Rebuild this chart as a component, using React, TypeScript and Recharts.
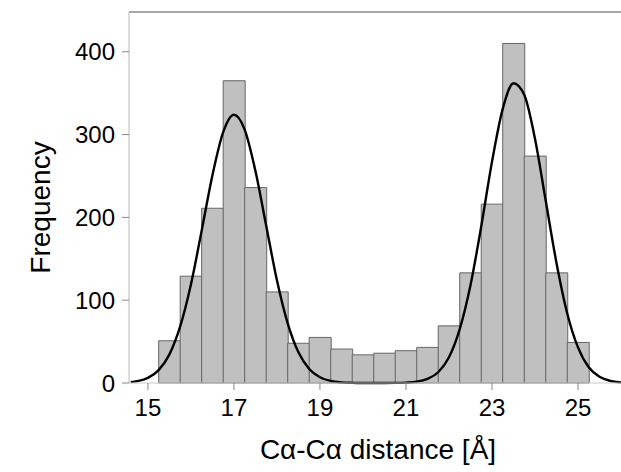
import React from 'react';
import { ComposedChart, Bar, Line, XAxis, YAxis, Label } from 'recharts';

// histogram bins (0.5 Å wide, centred on x)
const binCenters = [15.5, 16, 16.5, 17, 17.5, 18, 18.5, 19, 19.5, 20, 20.5, 21, 21.5, 22, 22.5, 23, 23.5, 24, 24.5, 25];
const binCounts = [51, 129, 211, 365, 236, 110, 48, 55, 41, 34, 36, 39, 43, 69, 133, 216, 410, 274, 133, 49];

// fitted curve
const curveX = [
  14.6, 14.75, 15, 15.25, 15.5, 15.75, 16, 16.25, 16.5, 16.75, 17, 17.25, 17.5, 17.75, 18, 18.25, 18.5, 18.75, 19,
  19.25, 19.5, 19.75, 20, 20.25, 20.5, 20.75, 21, 21.25, 21.5, 21.75, 22, 22.25, 22.5, 22.75, 23, 23.25, 23.5,
  23.75, 24, 24.25, 24.5, 24.75, 25, 25.25, 25.5, 25.75, 26,
];
const curveY = [
  1, 2.2, 6.2, 15.5, 34.6, 68.3, 119, 184, 251, 303, 324, 306, 256, 190, 124, 72, 37, 17, 7,
  2.5, 0.8, 0.2, 0, 0, 0, 0.1, 0.5, 1.6, 5, 13, 31, 65, 118, 189, 267, 331, 362,
  348, 295, 220, 145, 84, 43, 19, 7.5, 2.6, 0.8,
];

const xTicks = [15, 17, 19, 21, 23, 25];
const yTicks = [0, 100, 200, 300, 400];
const xDomain: [number, number] = [14.56, 26];
const yDomain: [number, number] = [0, 448];

const bins = binCenters.map((x, i) => ({ x, count: binCounts[i] }));
const curve = curveX.map((x, i) => ({ x, fit: curveY[i] }));

const font = '"Liberation Sans", Arial, Helvetica, sans-serif';

const YTitle = (props: any) => {
  const vb = props.viewBox || {};
  const cx = (vb.x || 0) + 40;
  const cy = (vb.y || 0) + (vb.height || 0) / 2 + 10;
  return (
    <text
      x={cx}
      y={cy}
      transform={`rotate(-90, ${cx}, ${cy})`}
      textAnchor="middle"
      dominantBaseline="central"
      fill="#000"
      fontSize={28}
    >
      Frequency
    </text>
  );
};

export default function App() {
  return (
    <div style={{ position: 'absolute', left: 0, top: 0, fontFamily: font }}>
      <ComposedChart
        width={621}
        height={472}
        data={bins}
        margin={{ top: 11, right: 0, bottom: 0, left: 0 }}
        barCategoryGap={0}
        barGap={0}
      >
        <XAxis
          xAxisId="bars"
          orientation="top"
          type="number"
          dataKey="x"
          domain={xDomain}
          allowDataOverflow
          height={1}
          tick={false}
          tickLine={false}
          axisLine={{ stroke: '#a6a6a6', strokeWidth: 2 }}
        />
        <XAxis
          xAxisId="x"
          type="number"
          dataKey="x"
          domain={xDomain}
          allowDataOverflow
          ticks={xTicks}
          height={89}
          tickSize={7}
          tickMargin={9}
          tick={{ fill: '#000', fontSize: 24 }}
          tickLine={{ stroke: '#888' }}
          axisLine={{ stroke: '#c8c8c8' }}
        >
          <Label value="Cα-Cα distance [Å]" position="insideBottom" offset={13} dx={3} fill="#000" fontSize={28} />
        </XAxis>
        <YAxis
          type="number"
          domain={yDomain}
          ticks={yTicks}
          width={129}
          tickSize={7}
          tickMargin={7}
          tick={{ fill: '#000', fontSize: 24 }}
          tickLine={{ stroke: '#888' }}
          axisLine={{ stroke: '#b8b8b8' }}
        >
          <Label content={<YTitle />} />
        </YAxis>
        <Bar xAxisId="bars" dataKey="count" fill="#c0c0c0" stroke="#666" strokeWidth={1} isAnimationActive={false} />
        <Line
          xAxisId="x"
          data={curve}
          dataKey="fit"
          type="monotone"
          stroke="#000"
          strokeWidth={2.4}
          dot={false}
          activeDot={false}
          isAnimationActive={false}
        />
      </ComposedChart>
    </div>
  );
}
